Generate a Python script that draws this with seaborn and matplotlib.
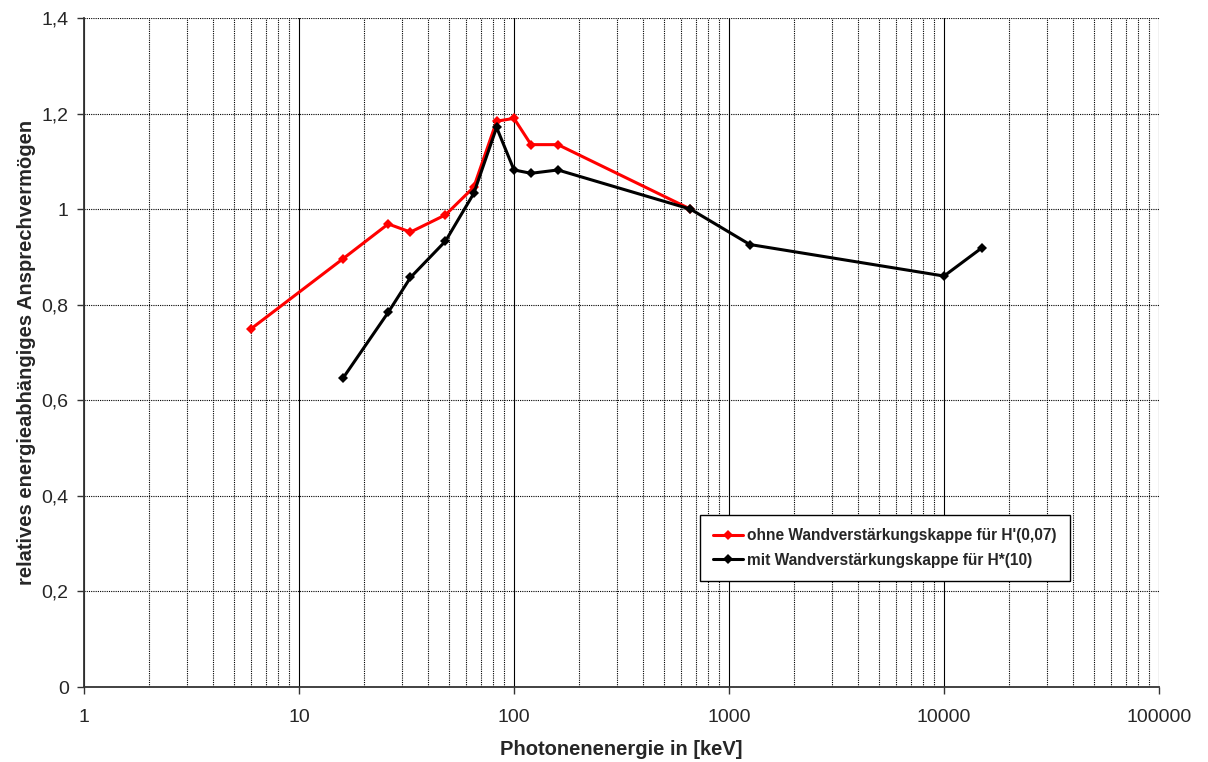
import pandas as pd
import matplotlib.pyplot as plt
import seaborn as sns
from matplotlib.ticker import FixedLocator, FuncFormatter, LogLocator, NullFormatter

# energies in keV and relative response
energy_ohne = [6, 16, 26, 33, 48, 65, 83, 100, 120, 160, 662]
resp_ohne = [0.75, 0.896, 0.969, 0.952, 0.988, 1.046, 1.184, 1.19, 1.135, 1.135, 1.0]

energy_mit = [16, 26, 33, 48, 65, 83, 100, 120, 160, 662, 1250, 10000, 15000]
resp_mit = [0.646, 0.784, 0.857, 0.933, 1.033, 1.171, 1.082, 1.075, 1.082, 1.0, 0.926, 0.86, 0.919]

label_ohne = "ohne Wandverstärkungskappe für H'(0,07)"
label_mit = "mit Wandverstärkungskappe für H*(10)"

x_ticks = [1, 10, 100, 1000, 10000, 100000]
y_ticks = [0, 0.2, 0.4, 0.6, 0.8, 1.0, 1.2, 1.4]

sns.set_style("white")
plt.rcParams['font.family'] = ['Liberation Sans', 'DejaVu Sans']

df = pd.concat([
    pd.DataFrame({"energie": energy_ohne, "resp": resp_ohne, "serie": label_ohne}),
    pd.DataFrame({"energie": energy_mit, "resp": resp_mit, "serie": label_mit}),
])

fig, ax = plt.subplots(figsize=(12.08, 7.62), dpi=100)
fig.subplots_adjust(left=84 / 1208, right=1159 / 1208, top=1 - 18 / 762, bottom=1 - 687 / 762)

sns.lineplot(data=df, x="energie", y="resp", hue="serie",
             palette={label_ohne: "#ff0000", label_mit: "black"},
             marker="D", markersize=5.5, markeredgewidth=0, linewidth=2.2,
             ax=ax, sort=False)

ax.set_xscale("log")
ax.set_xlim(1, 100000)
ax.set_ylim(0, 1.4)

ax.xaxis.set_major_locator(FixedLocator(x_ticks))
ax.xaxis.set_major_formatter(FuncFormatter(lambda v, p: f"{int(round(v))}"))
ax.xaxis.set_minor_locator(LogLocator(base=10, subs=range(2, 10)))
ax.xaxis.set_minor_formatter(NullFormatter())
ax.yaxis.set_major_locator(FixedLocator(y_ticks))
ax.yaxis.set_major_formatter(FuncFormatter(lambda v, p: f"{v:g}".replace(".", ",")))

ax.grid(True, which="major", axis="x", color="black", linestyle="-", linewidth=0.8)
ax.grid(True, which="minor", axis="x", color="black", linestyle=(0, (1, 1)), linewidth=0.8)
ax.grid(True, which="major", axis="y", color="black", linestyle=(0, (1, 1)), linewidth=0.8)
ax.set_axisbelow(True)

ax.tick_params(axis="x", which="major", direction="out", length=5, width=1,
               labelsize=14, color="#333333", bottom=True, pad=11)
ax.tick_params(axis="y", which="major", direction="out", length=5, width=1,
               labelsize=14, color="#333333", left=True, pad=6)
ax.tick_params(axis="x", which="minor", length=0)

for side in ["top", "right"]:
    ax.spines[side].set_visible(False)
for side in ["left", "bottom"]:
    ax.spines[side].set_color("#333333")
    ax.spines[side].set_linewidth(1.3)

ax.set_xlabel("Photonenenergie in [keV]", fontsize=14.5, fontweight="bold", labelpad=10)
ax.set_ylabel("relatives energieabhängiges Ansprechvermögen", fontsize=14.5, fontweight="bold", labelpad=4)

leg = ax.legend(loc="upper left", bbox_to_anchor=(0.573, 0.257), borderaxespad=0,
                prop={"weight": "bold", "size": 11.2}, frameon=True, fancybox=False,
                edgecolor="black", framealpha=1, handlelength=1.9, handletextpad=0.3,
                borderpad=0.85, labelspacing=0.6)
leg.get_frame().set_linewidth(1)

fig.savefig("out.png", dpi=100)
